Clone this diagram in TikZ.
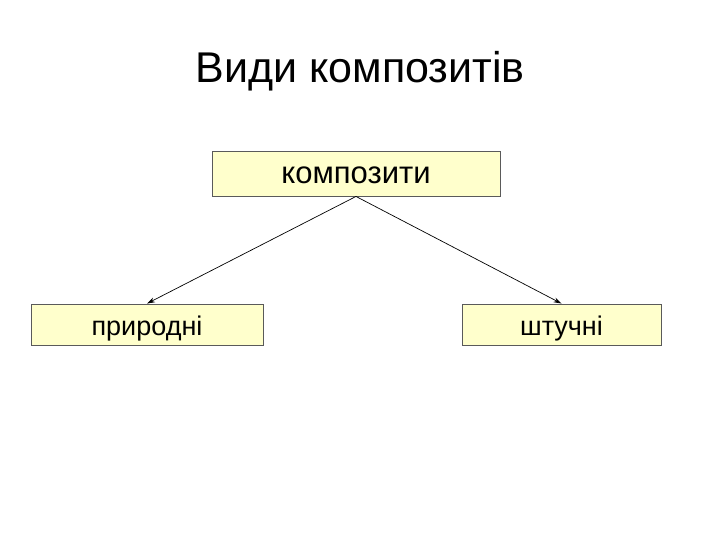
\documentclass[tikz,border=0pt]{standalone}
\usepackage{fontspec}
\setmainfont{Liberation Sans}
\usepackage{tikz}
\usetikzlibrary{positioning, arrows.meta}
\definecolor{boxfill}{HTML}{FFFFCC}
\definecolor{boxline}{HTML}{5A5A5A}

\begin{document}
\begin{tikzpicture}[
  x=1pt, y=-1pt,
  box/.style={rectangle, draw=boxline, fill=boxfill, line width=0.9pt,
              minimum height=41pt, inner sep=0pt,
              text height=21pt, text depth=0pt,
              font=\fontsize{27}{30}\selectfont},
  arr/.style={-{Stealth[length=8pt, width=5pt]}, draw=black, line width=0.7pt},
  title/.style={font=\fontsize{43}{48}\selectfont}
]
  \useasboundingbox (0,0) rectangle (720,540);
  \node[title, anchor=base] (t) at (360,83) {Види композитів};
  \node[box, minimum width=288pt, minimum height=45pt,
        font=\fontsize{31}{34}\selectfont] (k) at (356,173.5) {композити};
  \node[box, minimum width=232pt] (p) at (147,324.5) {природні};
  \node[box, minimum width=199pt] (s) at (561.5,324.5) {штучні};
  \draw[arr] (k.south) -- (p.north);
  \draw[arr] (k.south) -- (s.north);
\end{tikzpicture}
\end{document}
